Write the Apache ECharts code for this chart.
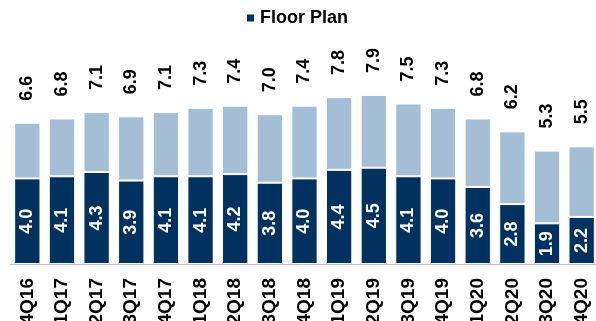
<!DOCTYPE html>
<html>
<head>
<meta charset="utf-8">
<script src="https://cdn.jsdelivr.net/npm/echarts@6/dist/echarts.min.js"></script>
<style>
  html, body { margin: 0; padding: 0; background: #fff; }
  #chart { width: 596px; height: 321px; }
</style>
</head>
<body>
<div id="chart"></div>
<script>
// quarters on the x axis
var quarters = ['4Q16', '1Q17', '2Q17', '3Q17', '4Q17', '1Q18', '2Q18', '3Q18', '4Q18',
  '1Q19', '2Q19', '3Q19', '4Q19', '1Q20', '2Q20', '3Q20', '4Q20'];
// floor plan (dark part)
var floorPlan = [4.0, 4.1, 4.3, 3.9, 4.1, 4.1, 4.2, 3.8, 4.0, 4.4, 4.5, 4.1, 4.0, 3.6, 2.8, 1.9, 2.2];
// total bar height (label on top)
var totals = [6.6, 6.8, 7.1, 6.9, 7.1, 7.3, 7.4, 7.0, 7.4, 7.8, 7.9, 7.5, 7.3, 6.8, 6.2, 5.3, 5.5];

var other = totals.map(function (t, i) { return +(t - floorPlan[i]).toFixed(1); });

var font = "'Liberation Sans Narrow', 'Arial Narrow', 'Liberation Sans', Arial, sans-serif";

var chart = echarts.init(document.getElementById('chart'));
chart.setOption({
  animation: false,
  legend: {
    data: ['Floor Plan'],
    left: 240,
    top: 4,
    icon: 'rect',
    itemWidth: 9,
    itemHeight: 9,
    itemGap: 7,
    textStyle: { fontFamily: font, fontWeight: 'bold', fontSize: 18, color: '#000' }
  },
  grid: { left: 10, width: 589, top: 50, bottom: 57, containLabel: false, outerBoundsMode: 'none' },
  xAxis: {
    type: 'category',
    data: quarters,
    axisLine: { lineStyle: { color: '#bfbfbf', width: 1 } },
    axisTick: { length: 5, lineStyle: { color: '#bfbfbf' } },
    axisLabel: {
      rotate: 90,
      margin: 14,
      color: '#000',
      fontFamily: font,
      fontWeight: 'bold',
      fontSize: 19
    }
  },
  yAxis: {
    type: 'value',
    min: 0,
    max: 10,
    show: false,
    splitLine: { show: false }
  },
  series: [
    {
      name: 'Floor Plan',
      type: 'bar',
      stack: 'all',
      barCategoryGap: '24%',
      data: floorPlan,
      itemStyle: { color: '#01325f', borderColor: '#fff', borderWidth: 1 },
      label: {
        show: true,
        position: 'inside',
        rotate: 90,
        color: '#fff',
        fontFamily: font,
        fontWeight: 'bold',
        fontSize: 18,
        formatter: function (p) { return p.value.toFixed(1); }
      }
    },
    {
      name: 'Other',
      type: 'bar',
      stack: 'all',
      data: other,
      itemStyle: { color: '#a4bed6', borderColor: '#fff', borderWidth: 1 },
      label: {
        show: true,
        position: 'top',
        distance: 22,
        rotate: 90,
        align: 'left',
        verticalAlign: 'middle',
        color: '#000',
        fontFamily: font,
        fontWeight: 'bold',
        fontSize: 18,
        formatter: function (p) { return totals[p.dataIndex].toFixed(1); }
      }
    }
  ]
});
</script>
</body>
</html>
